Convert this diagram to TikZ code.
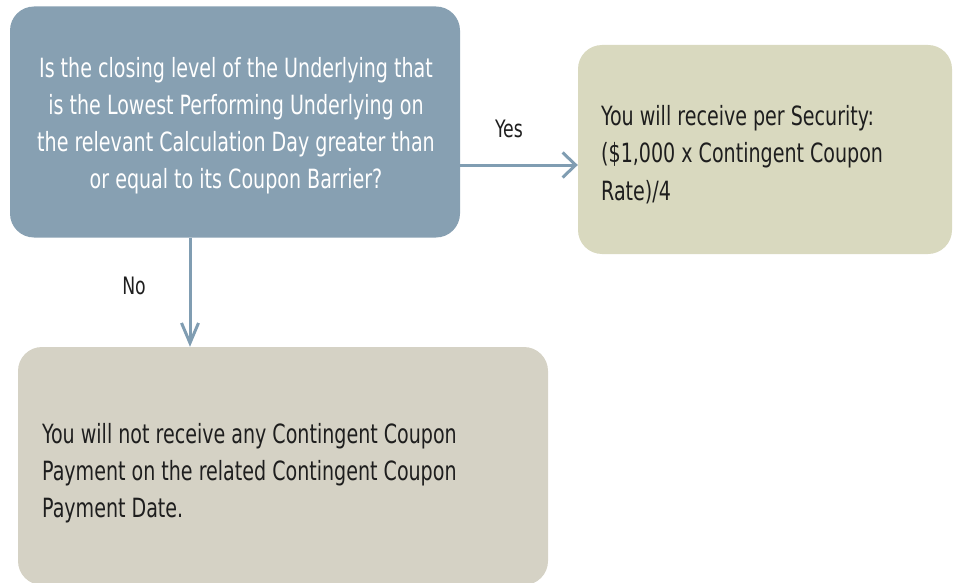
\documentclass[tikz,border=0pt]{standalone}
\usepackage{fontspec}
\setmainfont{DejaVu Sans Condensed}[FakeStretch=0.8]
\usetikzlibrary{arrows.meta}
\definecolor{qblue}{HTML}{87A0B2}
\definecolor{yesbox}{HTML}{D9D9BF}
\definecolor{nobox}{HTML}{D5D2C5}
\definecolor{arrowc}{HTML}{809DB2}
\definecolor{txt}{HTML}{1E1E1E}
\tikzset{
  box/.style={rectangle, rounded corners=24pt, inner sep=0pt},
  boxtext/.style={inner sep=0pt, font=\fontsize{26.5}{37}\selectfont},
  conn/.style={draw=arrowc, line width=3pt},
  lbl/.style={text=txt, inner sep=0pt, font=\fontsize{24}{26}\selectfont}
}
\begin{document}
\begin{tikzpicture}[x=1pt,y=-1pt]
\useasboundingbox (0,0) rectangle (953,583);
\node[box, fill=qblue, minimum width=450pt, minimum height=231pt] (q) at (235,122) {};
\node[box, fill=yesbox, minimum width=374pt, minimum height=209pt] (yes) at (765,149.5) {};
\node[box, fill=nobox, minimum width=530pt, minimum height=238pt] (no) at (283,466) {};
\node[boxtext, text=white, align=center, anchor=base] (qt) at (236,188)
  {Is the closing level of the Underlying that\\
   is the Lowest Performing Underlying on\\
   the relevant Calculation Day greater than\\
   or equal to its Coupon Barrier?};
\node[boxtext, text=txt, align=left, anchor=base west] (yt) at (601,200)
  {You will receive per Security:\\
   (\$1,000 x Contingent Coupon\\
   Rate)/4};
\node[boxtext, text=txt, align=left, anchor=base west] (nt) at (42,517)
  {You will not receive any Contingent Coupon\\
   Payment on the related Contingent Coupon\\
   Payment Date.};
\coordinate (ya) at ([yshift=-43pt]q.east);
\coordinate (na) at ([xshift=-45pt]q.south);
\draw[conn, -{Straight Barb[length=13pt,width=25pt,line width=3pt]}] (ya) -- (ya -| yes.west);
\draw[conn, -{Straight Barb[length=20pt,width=17pt,line width=3pt]}] (na) -- (na |- no.north);
\node[lbl] (ylab) at (509,129) {Yes};
\node[lbl] (nlab) at (134,286) {No};
\end{tikzpicture}
\end{document}
